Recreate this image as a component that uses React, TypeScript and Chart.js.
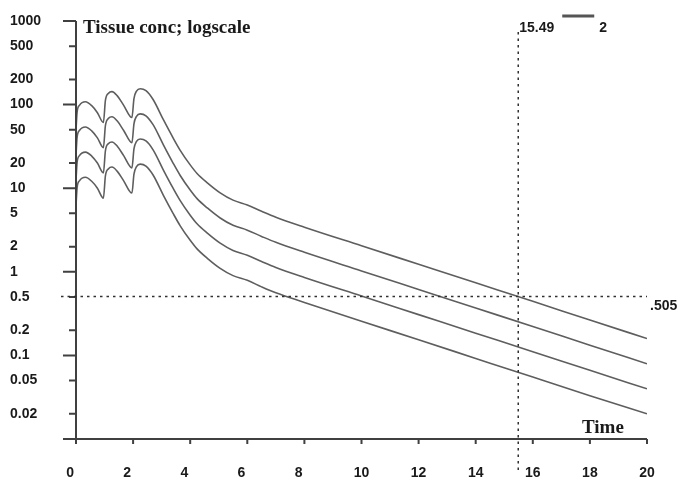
import React, { useEffect, useRef } from 'react';
import { Chart, registerables } from 'chart.js';

Chart.register(...registerables);

// Time points (hours)
const TIMES = [0, 0.04, 0.12, 0.33, 0.55, 0.75, 0.96, 1.03, 1.14, 1.26, 1.44, 1.67, 1.96, 2.03, 2.12, 2.25, 2.45, 2.7, 3.07, 3.4, 3.65, 4.0, 4.24, 4.6, 5.05, 5.5, 6.0, 6.5, 7.0, 8, 10, 12, 14, 16, 18, 20];

// Tissue concentrations for the four doses
const CONC_A = [50, 82, 98, 108, 97, 80, 61, 112, 137, 143, 128, 98, 70, 118, 145, 155, 147, 115, 65, 40, 28.4, 19, 15, 11.6, 8.8, 7.2, 6.3, 5.3, 4.5, 3.42, 2.05, 1.23, 0.738, 0.443, 0.265, 0.159];
const CONC_B = [25, 41, 49, 54, 48.5, 40, 30.5, 56, 68.5, 71.5, 64, 49, 35, 59, 72.5, 77.5, 73.5, 57.5, 32.5, 20, 14.2, 9.5, 7.5, 5.8, 4.4, 3.6, 3.15, 2.65, 2.25, 1.71, 1.025, 0.615, 0.369, 0.2215, 0.1325, 0.0795];
const CONC_C = [12.5, 20.5, 24.5, 27, 24.25, 20, 15.25, 28, 34.25, 35.75, 32, 24.5, 17.5, 29.5, 36.25, 38.75, 36.75, 28.75, 16.25, 10, 7.1, 4.75, 3.75, 2.9, 2.2, 1.8, 1.575, 1.325, 1.125, 0.855, 0.5125, 0.3075, 0.1845, 0.1108, 0.0663, 0.0398];
const CONC_D = [6.25, 10.25, 12.25, 13.5, 12.1, 10, 7.6, 14, 17.1, 17.9, 16, 12.25, 8.75, 14.75, 18.1, 19.4, 18.4, 14.4, 8.1, 5, 3.55, 2.38, 1.88, 1.45, 1.1, 0.9, 0.79, 0.66, 0.56, 0.43, 0.256, 0.154, 0.092, 0.055, 0.033, 0.02];

const Y_TICKS = [1000, 500, 200, 100, 50, 20, 10, 5, 2, 1, 0.5, 0.2, 0.1, 0.05, 0.02];
const Y_MAJOR = [1000, 100, 10, 1, 0.1];
const X_TICKS = [0, 2, 4, 6, 8, 10, 12, 14, 16, 18, 20];

const CROSS_X = 15.49;
const CROSS_Y = 0.505;
const CROSS_X_LABEL = '15.49';
const CROSS_Y_LABEL = '.505';
const LEGEND_LABEL = '2';
const TITLE = 'Tissue conc; logscale';
const X_TITLE = 'Time';

const SANS = '"Liberation Sans", Arial, sans-serif';
const SERIF = '"Liberation Serif", "Times New Roman", serif';

const decorPlugin = {
  id: 'decor',
  afterDraw(chart: any) {
    const { ctx, chartArea: ca, scales } = chart;
    const x = scales.x;
    const y = scales.y;
    const x0 = x.getPixelForValue(0);
    const xEnd = x.getPixelForValue(20);
    ctx.save();

    // axes
    ctx.strokeStyle = '#404040';
    ctx.lineWidth = 2;
    ctx.setLineDash([]);
    ctx.beginPath();
    ctx.moveTo(x0, ca.top);
    ctx.lineTo(x0, ca.bottom);
    ctx.moveTo(x0 - 13, ca.bottom);
    ctx.lineTo(xEnd, ca.bottom);
    ctx.stroke();

    // y tick marks
    ctx.beginPath();
    Y_TICKS.forEach((v) => {
      const py = y.getPixelForValue(v);
      const len = Y_MAJOR.includes(v) ? 13 : 7;
      ctx.moveTo(x0 - len, py);
      ctx.lineTo(x0, py);
    });
    // x tick marks
    X_TICKS.forEach((v) => {
      const px = x.getPixelForValue(v);
      ctx.moveTo(px, ca.bottom);
      ctx.lineTo(px, ca.bottom + 5);
    });
    ctx.stroke();

    // crosshair
    const cx = x.getPixelForValue(CROSS_X);
    const cy = y.getPixelForValue(CROSS_Y);
    ctx.strokeStyle = '#303030';
    ctx.lineWidth = 1.5;
    ctx.setLineDash([2.5, 4]);
    ctx.beginPath();
    ctx.moveTo(cx, ca.top + 11);
    ctx.lineTo(cx, ca.bottom + 31);
    ctx.moveTo(x0 - 15, cy);
    ctx.lineTo(xEnd, cy);
    ctx.stroke();
    ctx.setLineDash([]);

    // texts
    ctx.fillStyle = '#1a1a1a';
    ctx.textBaseline = 'alphabetic';
    ctx.textAlign = 'left';
    ctx.font = `bold 14px ${SANS}`;
    ctx.fillText(CROSS_X_LABEL, cx + 1, ca.top + 11);
    ctx.fillText(LEGEND_LABEL, cx + 81, ca.top + 11);
    ctx.fillText(CROSS_Y_LABEL, xEnd + 3, cy + 13);

    // legend line
    ctx.strokeStyle = '#555';
    ctx.lineWidth = 3;
    ctx.beginPath();
    ctx.moveTo(cx + 44, ca.top - 5);
    ctx.lineTo(cx + 76, ca.top - 5);
    ctx.stroke();

    ctx.font = `bold 19px ${SERIF}`;
    ctx.fillText(TITLE, x0 + 7, ca.top + 12);
    ctx.fillText(X_TITLE, xEnd - 65, ca.bottom - 6);

    ctx.restore();
  },
};

export default function App() {
  const ref = useRef<HTMLCanvasElement | null>(null);

  useEffect(() => {
    if (!ref.current) return;
    const series = [CONC_A, CONC_B, CONC_C, CONC_D];
    const chart = new Chart(ref.current, {
      type: 'line',
      data: {
        datasets: series.map((s, i) => ({
          label: `Dose ${i + 1}`,
          data: TIMES.map((t, j) => ({ x: t, y: s[j] })),
          borderColor: '#5e5e5e',
          borderWidth: 1.6,
          pointRadius: 0,
          fill: false,
          cubicInterpolationMode: 'monotone' as const,
        })),
      },
      options: {
        animation: false,
        responsive: false,
        devicePixelRatio: 1,
        events: [],
        layout: { padding: { left: 10, right: 51, top: 21, bottom: 0 } },
        plugins: {
          legend: { display: false },
          tooltip: { enabled: false },
          title: { display: false },
        },
        scales: {
          x: {
            type: 'linear',
            min: 0,
            max: 20,
            grid: { display: false, drawTicks: false },
            border: { display: false },
            afterFit: (scale: any) => {
              scale.height = 44;
            },
            afterBuildTicks: (scale: any) => {
              scale.ticks = X_TICKS.map((v) => ({ value: v }));
            },
            ticks: {
              padding: 26,
              color: '#1a1a1a',
              font: { family: SANS, size: 14, weight: 'bold' },
              maxRotation: 0,
              autoSkip: false,
              callback: (v: any) => (Number(v) < 10 ? `${v}   ` : `${v}`),
            },
          },
          y: {
            type: 'logarithmic',
            min: 0.01,
            max: 1000,
            grid: { display: false, drawTicks: false },
            border: { display: false },
            afterFit: (scale: any) => {
              scale.width = 66;
            },
            afterBuildTicks: (scale: any) => {
              scale.ticks = Y_TICKS.map((v) => ({ value: v }));
            },
            ticks: {
              crossAlign: 'far',
              color: '#1a1a1a',
              autoSkip: false,
              font: { family: SANS, size: 14, weight: 'bold' },
              callback: (v: any) => String(v),
            },
          },
        },
      },
      plugins: [decorPlugin],
    });
    return () => chart.destroy();
  }, []);

  return (
    <div style={{ position: 'absolute', left: 0, top: 0, width: 698, height: 483, background: '#fff' }}>
      <canvas ref={ref} width={698} height={483} style={{ width: 698, height: 483, display: 'block' }} />
    </div>
  );
}
